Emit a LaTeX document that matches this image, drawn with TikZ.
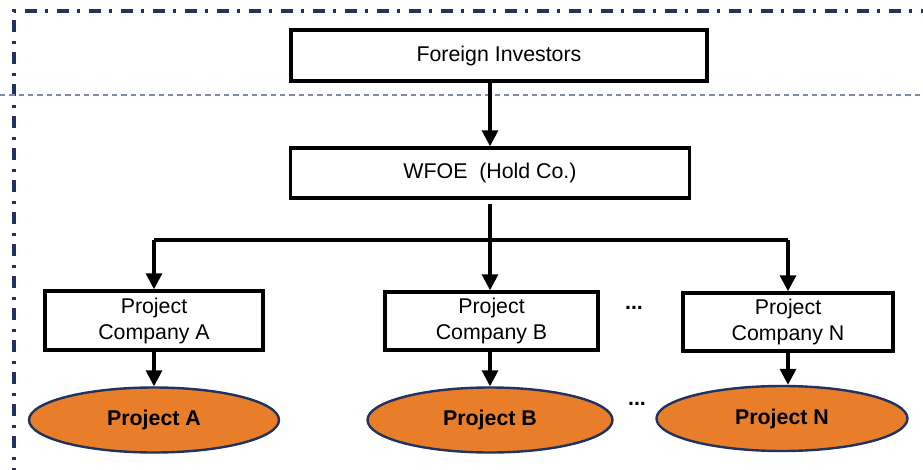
\documentclass[tikz,border=0pt]{standalone}
\usepackage{fontspec}
\setmainfont{Liberation Sans}
\usepackage{tikz}
\usetikzlibrary{shapes.geometric, arrows.meta}

\definecolor{navy}{RGB}{31,50,96}
\definecolor{lightnavy}{RGB}{125,138,178}
\definecolor{projorange}{RGB}{232,126,42}

\begin{document}
\begin{tikzpicture}[x=0.75pt, y=-0.75pt,
	font=\fontsize{16}{19.5}\selectfont,
	box/.style={rectangle, draw, line width=2.6pt, inner sep=0pt, align=center},
	proj/.style={ellipse, draw=navy, line width=1.8pt, fill=projorange, inner sep=0pt, minimum width=187.5pt, minimum height=48.75pt, font=\fontsize{16}{19.5}\selectfont\bfseries},
	arr/.style={line width=2.4pt, -{Triangle[length=12pt, width=12pt]}}]
				      \useasboundingbox (0,0) rectangle (923,470);
				      \clip (0,0) rectangle (923,470);

				      % frame and border line
				      \draw[navy, line width=2.6pt, dash pattern=on 9pt off 6pt on 2.2pt off 6.8pt] (14,480) -- (14,11) -- (935,11);
				      \draw[lightnavy, line width=1.3pt, dash pattern=on 4pt off 3pt] (0,95) -- (923,95);

				      \node[box, minimum width=312pt, minimum height=38.25pt] (inv) at (499,55.5) {Foreign Investors};
				      \node[box, minimum width=299.25pt, minimum height=37.5pt] (wfoe) at (490,173) {WFOE\ \ (Hold Co.)};

				      \node[box, minimum width=163.5pt, minimum height=44.25pt] (cA) at (154,320.5) {Project\\Company A};
				      \node[box, minimum width=159.75pt, minimum height=43.5pt] (cB) at (491.5,321) {Project\\Company B};
				      \node[box, minimum width=157.5pt, minimum height=43.5pt] (cN) at (788,322) {Project\\Company N};

				      \node[proj] (pA) at (154,420) {Project A};
				      \node[proj, minimum width=183.75pt] (pB) at (490,420) {Project B};
				      \node[proj, minimum width=188.25pt] (pN) at (782,418.5) {Project N};

				      \node (dots1) at (634,308) {\textbf{...}};
				      \node (dots2) at (637,404) {\textbf{...}};

				      \coordinate (bus) at (490,240);

				      \draw[arr] (wfoe.north |- inv.south) -- (wfoe.north);
				      \draw[line width=2.4pt, shorten <=3pt] (wfoe.south) -- (bus);
				      \draw[line width=2.4pt] (bus -| cA) -- (bus -| cN);

				      \draw[arr] (bus -| cA) -- (cA);
				      \draw[arr] (bus) -- (bus |- cB.north);
				      \draw[arr] (bus -| cN) -- (cN);

				      \draw[arr] (cA) -- (pA);
				      \draw[arr] (cB.south -| pB) -- (pB);
				      \draw[arr] (cN.south) -- (cN.south |- pN.north);
			      \end{tikzpicture}
\end{document}
